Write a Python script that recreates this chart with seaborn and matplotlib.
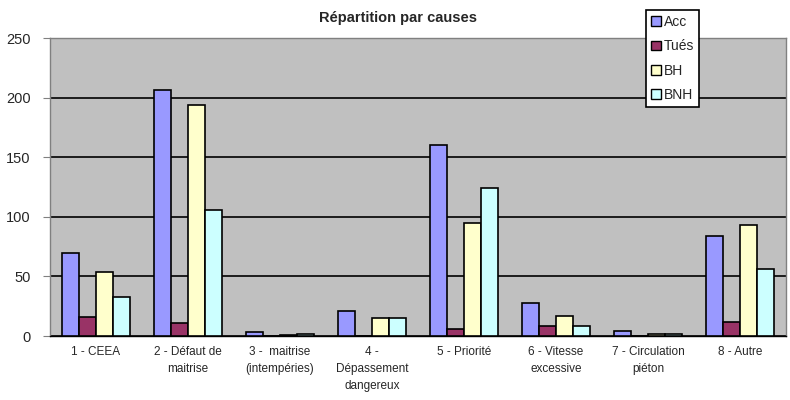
import numpy as np
import pandas as pd
import matplotlib
matplotlib.use("Agg")
import matplotlib.pyplot as plt
import seaborn as sns

# data
causes = ["1 - CEEA", "2 - Défaut de\nmaitrise", "3 -  maitrise\n(intempéries)",
          "4 -\nDépassement\ndangereux", "5 - Priorité", "6 - Vitesse\nexcessive",
          "7 - Circulation\npiéton", "8 - Autre"]
acc = [70, 206, 3, 21, 160, 28, 4, 84]
tues = [16, 11, 0, 0, 6, 8, 0, 12]
bh = [54, 194, 1, 15, 95, 17, 2, 93]
bnh = [33, 106, 2, 15, 124, 8, 2, 56]
series = ["Acc", "Tués", "BH", "BNH"]
colors = ["#9999FF", "#993366", "#FFFFCC", "#CCFFFF"]

df = pd.DataFrame({"cause": causes, "Acc": acc, "Tués": tues, "BH": bh, "BNH": bnh})
df = df.melt(id_vars="cause", var_name="serie", value_name="n")

sns.set_style("white")
plt.rcParams["font.family"] = ["Liberation Sans", "DejaVu Sans"]

fig = plt.figure(figsize=(7.9, 4.0), dpi=100)
ax = fig.add_axes([50 / 790, 1 - 336 / 400, 736 / 790, 298 / 400])
ax.set_facecolor("#C0C0C0")

sns.barplot(data=df, x="cause", y="n", hue="serie", hue_order=series,
            palette=colors, width=0.74, gap=0, edgecolor="black", linewidth=1.2,
            saturation=1, ax=ax, legend=False, zorder=3)

ax.set_ylim(0, 250)
ax.set_yticks(np.arange(0, 251, 50))
ax.set_xlim(-0.5, len(causes) - 0.5)
ax.yaxis.grid(True, color="black", linewidth=1.2, zorder=1)
ax.set_axisbelow(True)
ax.set_xlabel("")
ax.set_ylabel("")

# tick marks between groups, labels centred under groups
ax.set_xticks(np.arange(-0.5, len(causes)), minor=True)
ax.tick_params(axis="x", which="major", length=0, labelsize=8.5, pad=7)
ax.tick_params(axis="x", which="minor", length=4, color="#808080", direction="out")
ax.tick_params(axis="y", length=5, color="#808080", direction="out", labelsize=10.5,
               left=True, pad=9)
for lbl in ax.get_xticklabels():
    lbl.set_linespacing(1.55)
for s in ["top", "right"]:
    ax.spines[s].set_color("#808080")
ax.spines["left"].set_color("#808080")
ax.spines["bottom"].set_color("black")
for sp in ax.spines.values():
    sp.set_linewidth(1.0)

fig.text(398 / 790, 1 - 18 / 400, "Répartition par causes", ha="center", va="center",
         fontsize=10.5, fontweight="bold")

handles = [plt.Rectangle((0, 0), 1, 1, facecolor=c, edgecolor="black", linewidth=1) for c in colors]
leg = fig.legend(handles, series, loc="upper left", bbox_to_anchor=(646 / 790, 1 - 10 / 400),
                 frameon=True, fancybox=False, edgecolor="black", framealpha=1,
                 facecolor="white", fontsize=10,
                 handlelength=0.7, handleheight=0.7, handletextpad=0.25,
                 labelspacing=0.75, borderpad=0.35, borderaxespad=0)
leg.get_frame().set_linewidth(1.2)
leg.set_zorder(10)

fig.savefig("out.png", dpi=100, facecolor="white")
